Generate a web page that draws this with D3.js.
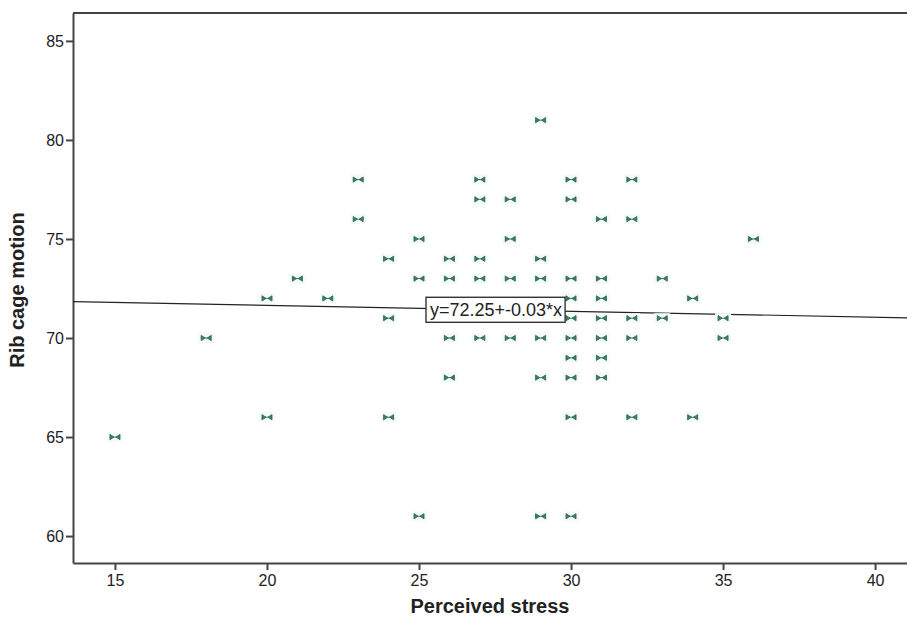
<!DOCTYPE html>
<html><head><meta charset="utf-8">
<script src="https://cdn.jsdelivr.net/npm/d3@7"></script>
<style>body{margin:0;background:#fff}svg{display:block;font-family:"Liberation Sans",Arial,sans-serif}</style>
</head><body><svg id="c" width="907" height="618"></svg>
<script>
const stress = [15,18,20,20,21,22,23,23,24,24,24,25,25,25,26,26,26,26,27,27,27,27,27,28,28,28,28,29,29,29,29,29,29,30,30,30,30,30,30,30,30,30,30,31,31,31,31,31,31,31,32,32,32,32,32,33,33,34,34,35,35,36];
const ribcage = [65,70,72,66,73,72,78,76,74,71,66,75,73,61,74,73,70,68,78,77,74,73,70,77,75,73,70,81,74,73,70,68,61,78,77,73,72,71,70,69,68,66,61,76,73,72,71,70,69,68,78,76,71,70,66,73,71,72,66,71,70,75];
const xTicks = [15,20,25,30,35,40];
const yTicks = [60,65,70,75,80,85];
const fitIntercept = 72.25, fitSlope = -0.03;
const fitLabel = "y=72.25+-0.03*x";
const xTitle = "Perceived stress", yTitle = "Rib cage motion";

const svg = d3.select("#c");
const L = 73, R = 907, T = 13, B = 563;
const x = d3.scaleLinear().domain([13.62, 41.05]).range([L, R]);
const y = d3.scaleLinear().domain([58.64, 86.41]).range([B, T]);

// frame top
svg.append("line").attr("x1", L).attr("x2", R).attr("y1", T).attr("y2", T)
  .attr("stroke", "#444").attr("stroke-width", 2);

const xa = svg.append("g").attr("transform", `translate(0,${B})`)
  .call(d3.axisBottom(x).tickValues(xTicks).tickSize(7).tickSizeOuter(0).tickPadding(5));
const ya = svg.append("g").attr("transform", `translate(${L},0)`)
  .call(d3.axisLeft(y).tickValues(yTicks).tickSize(7).tickSizeOuter(0).tickPadding(2));
[xa, ya].forEach(a => {
  a.attr("font-size", null).attr("font-family", null);
  a.select(".domain").attr("stroke", "#444").attr("stroke-width", 2);
  a.selectAll(".tick line").attr("stroke", "#444").attr("stroke-width", 2);
  a.selectAll(".tick text").attr("fill", "#222").style("font-size", "16px")
   .style("font-family", '"Liberation Sans",Arial,sans-serif');
});

// fit line
svg.append("line")
  .attr("x1", x(13.62)).attr("y1", y(fitIntercept + fitSlope * 13.62))
  .attr("x2", x(41.05)).attr("y2", y(fitIntercept + fitSlope * 41.05))
  .attr("stroke", "#222").attr("stroke-width", 1.2);

// markers (bowtie)
const pts = stress.map((s, i) => [s, ribcage[i]]);
const bow = "M-5,-2.6L-1,0L-5,2.6Z M5,-2.6L1,0L5,2.6Z M-2,0H2";
const mg = svg.append("g");
mg.selectAll("rect").data(pts).join("rect")
  .attr("x", d => x(d[0]) - 8).attr("y", d => y(d[1]) - 5)
  .attr("width", 16).attr("height", 10).attr("fill", "#f4faf7");
mg.selectAll("path").data(pts).join("path")
  .attr("transform", d => `translate(${x(d[0])},${y(d[1])})`)
  .attr("d", bow).attr("fill", "#3b7f63").attr("stroke", "#2f6a52").attr("stroke-width", 0.9);

// fit label box
const bx = x(25.23), by = y(fitIntercept + fitSlope * 27.5);
const lbl = svg.append("g");
const t = lbl.append("text").attr("x", bx + 4).attr("y", by + 6)
  .attr("fill", "#222").style("font-size", "18px").text(fitLabel);
const bb = t.node().getBBox();
lbl.insert("rect", "text").attr("x", bx).attr("y", by - 12.5)
  .attr("width", bb.width + 7).attr("height", 25)
  .attr("fill", "#fff").attr("stroke", "#333").attr("stroke-width", 1.4);

// titles
svg.append("text").attr("x", 490).attr("y", 613).attr("text-anchor", "middle")
  .style("font-size", "20px").style("font-weight", "bold").attr("fill", "#222").text(xTitle);
svg.append("text").attr("transform", "translate(24,290) rotate(-90)").attr("text-anchor", "middle")
  .style("font-size", "20px").style("font-weight", "bold").attr("fill", "#222").text(yTitle);
</script></body></html>
